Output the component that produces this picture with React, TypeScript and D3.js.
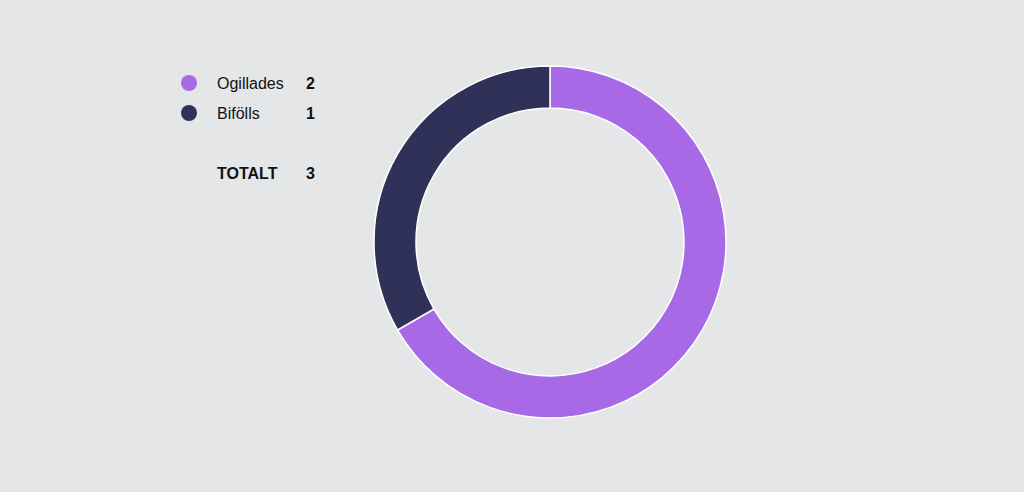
import React from "react";
import * as d3 from "d3";

const categories = ["Ogillades", "Bifölls"];
const values = [2, 1];
const colors = ["#a769e6", "#2f3158"];
const totalLabel = "TOTALT";

const W = 1024;
const H = 492;

export default function App() {
  const cx = 550;
  const cy = 242;
  const outer = 176;
  const inner = 134;
  const pie = d3.pie<number>().sort(null).value((d) => d)(values);
  const arc = d3.arc<d3.PieArcDatum<number>>().innerRadius(inner).outerRadius(outer);
  const total = d3.sum(values);
  const legendY = d3.scaleLinear().domain([0, 1]).range([83, 113]);
  return (
    <svg
      width={W}
      height={H}
      style={{ position: "absolute", left: 0, top: 0, background: "#e5e6e8" }}
      fontFamily="Liberation Sans, Arial, sans-serif"
    >
      <rect width={W} height={H} fill="#e5e6e8" />
      <g transform={`translate(${cx},${cy})`}>
        {pie.map((p, i) => (
          <path key={i} d={arc(p) || ""} fill={colors[i]} stroke="#ffffff" strokeWidth={1.5} />
        ))}
      </g>
      {categories.map((c, i) => (
        <g key={c}>
          <circle cx={189} cy={legendY(i)} r={8} fill={colors[i]} />
          <text x={217} y={legendY(i) + 5.5} fontSize={16} fill="#111">
            {c}
          </text>
          <text x={306} y={legendY(i) + 5.5} fontSize={16} fontWeight="bold" fill="#111">
            {values[i]}
          </text>
        </g>
      ))}
      <text x={217} y={178.5} fontSize={16} fontWeight="bold" fill="#111">
        {totalLabel}
      </text>
      <text x={306} y={178.5} fontSize={16} fontWeight="bold" fill="#111">
        {total}
      </text>
    </svg>
  );
}
